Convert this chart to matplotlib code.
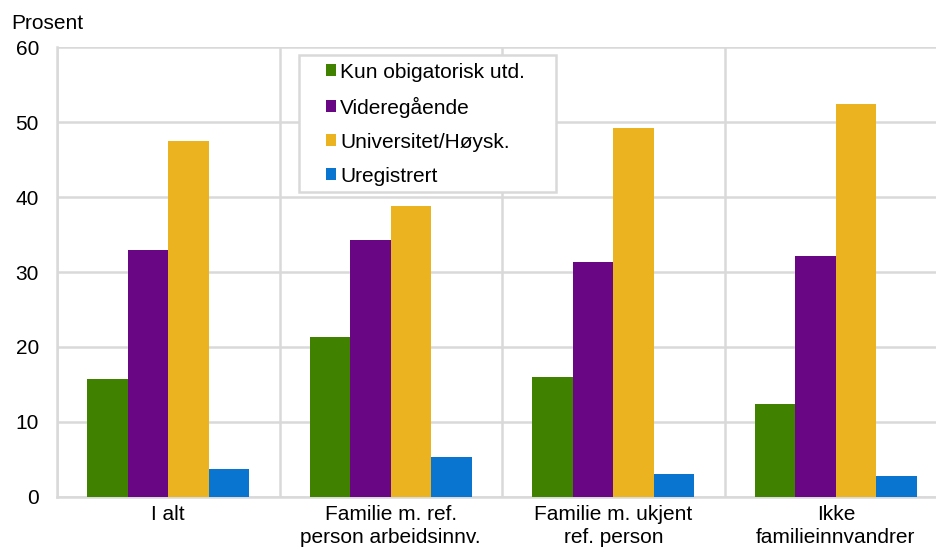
import numpy as np
import matplotlib.pyplot as plt
from matplotlib.patches import Rectangle

plt.rcParams['font.family'] = ['Liberation Sans', 'DejaVu Sans']

# Education level by group, per cent
categories = ['I alt', 'Familie m. ref.\nperson arbeidsinnv.',
              'Familie m. ukjent\nref. person', 'Ikke\nfamilieinnvandrer']
series_names = ['Kun obigatorisk utd.', 'Videregående',
                'Universitet/Høysk.', 'Uregistrert']
kun_obligatorisk = [15.7, 21.3, 16.0, 12.4]
videregaende = [32.9, 34.3, 31.3, 32.1]
universitet = [47.5, 38.8, 49.3, 52.4]
uregistrert = [3.7, 5.3, 3.0, 2.8]
y_ticks = [0, 10, 20, 30, 40, 50, 60]

colors = ['#408200', '#690683', '#ebb320', '#0a75d0']
grid_color = '#d9d9d9'

fig = plt.figure(figsize=(9.37, 5.49), dpi=100)
ax = fig.add_axes([0.0608, 0.0953, 0.950, 0.8182])

x = np.arange(len(categories))
w = 0.182
values = [kun_obligatorisk, videregaende, universitet, uregistrert]
for i, (vals, name, col) in enumerate(zip(values, series_names, colors)):
    ax.bar(x + (i - 1.5) * w, vals, width=w, color=col, label=name,
           linewidth=0, zorder=3)

ax.set_xlim(-0.5, len(categories) - 0.5)
ax.set_ylim(0, 60)
ax.set_yticks(y_ticks)
ax.set_xticks(x)
ax.set_xticklabels(categories, fontsize=15, linespacing=1.25)
ax.tick_params(axis='y', length=0, labelsize=15, pad=13)
ax.tick_params(axis='x', length=0, pad=6)

# category separators and horizontal grid
ax.set_xticks(np.arange(-0.5, len(categories)), minor=True)
ax.tick_params(axis='x', which='minor', length=0)
ax.grid(axis='y', color=grid_color, linewidth=1.8, zorder=0)
ax.grid(axis='x', which='minor', color=grid_color, linewidth=1.8, zorder=0)
ax.set_axisbelow(True)
for s in ['top', 'right']:
    ax.spines[s].set_visible(False)
for s in ['left', 'bottom']:
    ax.spines[s].set_color(grid_color)
    ax.spines[s].set_linewidth(1.8)

# legend box
ax.add_patch(Rectangle((0.272, 0.678), 0.289, 0.305, transform=ax.transAxes,
                       facecolor='white', edgecolor=grid_color, linewidth=1.8,
                       zorder=4))
leg = ax.legend(loc='upper left', bbox_to_anchor=(0.302, 0.966),
                frameon=False, fontsize=15, borderpad=0, borderaxespad=0,
                handlelength=0.5, handleheight=0.5, handletextpad=0.2,
                labelspacing=0.72)
leg.set_zorder(5)

fig.text(11 / 937, 1 - 29 / 549, 'Prosent', fontsize=15, va='baseline')

fig.savefig('out.png', dpi=100)
